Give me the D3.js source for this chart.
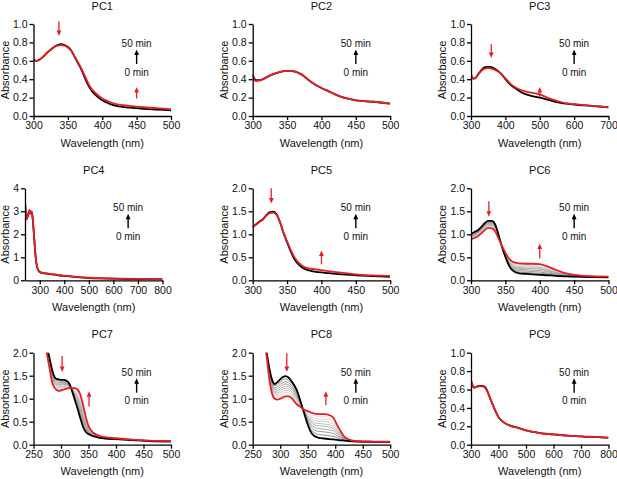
<!DOCTYPE html>
<html>
<head>
<meta charset="utf-8">
<script src="https://cdn.jsdelivr.net/npm/d3@7"></script>
<style>
  body { margin: 0; background: #fff; }
  svg { font-family: "Liberation Sans", Arial, sans-serif; }
</style>
</head>
<body>
<div id="chart"></div>
<script>
// ---- data (wavelength in nm, absorbance) ----
const titles = ['PC1', 'PC2', 'PC3', 'PC4', 'PC5', 'PC6', 'PC7', 'PC8', 'PC9'];

const pc1Wl  = [300, 305, 310, 315, 320, 325, 330, 335, 340, 345, 350, 355, 360, 365, 370, 375, 380, 385, 390, 400, 410, 420, 440, 460, 480, 500];
const pc1T0  = [0.61, 0.60, 0.62, 0.65, 0.69, 0.72, 0.75, 0.77, 0.78, 0.77, 0.75, 0.71, 0.64, 0.57, 0.50, 0.41, 0.33, 0.27, 0.23, 0.17, 0.135, 0.11, 0.09, 0.078, 0.07, 0.062];
const pc1T50 = [0.61, 0.60, 0.62, 0.65, 0.69, 0.72, 0.75, 0.765, 0.77, 0.765, 0.745, 0.71, 0.645, 0.58, 0.51, 0.43, 0.35, 0.29, 0.25, 0.19, 0.155, 0.13, 0.11, 0.095, 0.085, 0.072];

const pc2Wl  = [300, 302, 305, 310, 315, 320, 330, 340, 350, 355, 360, 365, 370, 375, 380, 385, 390, 400, 410, 420, 430, 440, 450, 475, 500];
const pc2T0  = [0.45, 0.41, 0.39, 0.39, 0.40, 0.42, 0.455, 0.48, 0.49, 0.49, 0.485, 0.475, 0.455, 0.43, 0.40, 0.37, 0.345, 0.305, 0.27, 0.235, 0.205, 0.185, 0.17, 0.155, 0.135];
const pc2T50 = [0.44, 0.40, 0.38, 0.385, 0.40, 0.42, 0.455, 0.48, 0.49, 0.49, 0.485, 0.475, 0.455, 0.43, 0.40, 0.37, 0.345, 0.305, 0.27, 0.235, 0.205, 0.185, 0.17, 0.155, 0.135];

const pc3Wl  = [300, 303, 307, 312, 320, 330, 340, 350, 360, 370, 380, 390, 400, 415, 430, 450, 475, 500, 525, 550, 575, 600, 650, 700];
const pc3T0  = [0.44, 0.42, 0.41, 0.41, 0.45, 0.50, 0.53, 0.535, 0.53, 0.51, 0.485, 0.45, 0.40, 0.34, 0.30, 0.25, 0.22, 0.20, 0.175, 0.15, 0.135, 0.125, 0.11, 0.095];
const pc3T50 = [0.47, 0.42, 0.405, 0.41, 0.445, 0.49, 0.515, 0.52, 0.515, 0.50, 0.48, 0.45, 0.41, 0.35, 0.31, 0.275, 0.255, 0.235, 0.195, 0.165, 0.14, 0.13, 0.11, 0.095];

const pc4Wl  = [240, 243, 247, 251, 255, 258, 261, 264, 268, 272, 276, 280, 285, 290, 295, 300, 310, 320, 330, 350, 375, 400, 450, 500, 550, 600, 700, 800];
const pc4T0  = [3.45, 2.95, 2.68, 2.78, 2.92, 3.02, 2.90, 2.98, 2.95, 2.60, 2.05, 1.45, 0.85, 0.55, 0.42, 0.36, 0.32, 0.30, 0.29, 0.26, 0.22, 0.19, 0.14, 0.10, 0.08, 0.07, 0.055, 0.045];
const pc4T50 = [3.40, 2.90, 2.65, 2.80, 2.95, 3.06, 2.92, 3.00, 2.97, 2.62, 2.07, 1.47, 0.87, 0.56, 0.43, 0.37, 0.33, 0.31, 0.30, 0.27, 0.23, 0.20, 0.15, 0.11, 0.085, 0.075, 0.06, 0.05];

const pc5Wl  = [300, 305, 310, 315, 320, 325, 330, 335, 340, 345, 350, 355, 360, 365, 370, 375, 380, 390, 400, 410, 425, 450, 475, 500];
const pc5T0  = [1.16, 1.22, 1.28, 1.33, 1.42, 1.48, 1.49, 1.43, 1.25, 1.02, 0.83, 0.64, 0.48, 0.37, 0.30, 0.25, 0.22, 0.19, 0.17, 0.155, 0.135, 0.11, 0.09, 0.075];
const pc5T50 = [1.15, 1.21, 1.27, 1.32, 1.41, 1.46, 1.47, 1.42, 1.25, 1.03, 0.85, 0.67, 0.52, 0.41, 0.34, 0.29, 0.265, 0.24, 0.22, 0.20, 0.17, 0.13, 0.105, 0.095];

const pc6Wl  = [300, 305, 310, 315, 320, 325, 330, 335, 340, 345, 350, 355, 360, 370, 380, 390, 400, 410, 420, 430, 440, 450, 475, 500];
const pc6T0  = [1.01, 1.05, 1.09, 1.16, 1.24, 1.29, 1.29, 1.22, 0.99, 0.73, 0.51, 0.33, 0.22, 0.15, 0.14, 0.13, 0.12, 0.11, 0.10, 0.09, 0.085, 0.08, 0.07, 0.065];
const pc6T50 = [0.89, 0.92, 0.96, 1.02, 1.09, 1.14, 1.13, 1.07, 0.91, 0.75, 0.60, 0.48, 0.41, 0.37, 0.36, 0.36, 0.35, 0.31, 0.25, 0.19, 0.145, 0.12, 0.09, 0.08];
const pc6Mid = [
  [0.99, 1.03, 1.07, 1.14, 1.22, 1.27, 1.27, 1.20, 0.98, 0.73, 0.52, 0.35, 0.25, 0.18, 0.17, 0.16, 0.15, 0.14, 0.12, 0.10, 0.09, 0.086, 0.073, 0.067],
  [0.98, 1.01, 1.05, 1.12, 1.20, 1.25, 1.25, 1.18, 0.97, 0.74, 0.53, 0.37, 0.27, 0.21, 0.20, 0.19, 0.18, 0.16, 0.14, 0.12, 0.10, 0.09, 0.075, 0.069],
  [0.96, 1.00, 1.04, 1.11, 1.18, 1.23, 1.23, 1.16, 0.96, 0.74, 0.55, 0.39, 0.29, 0.24, 0.23, 0.22, 0.21, 0.19, 0.16, 0.13, 0.11, 0.095, 0.078, 0.071],
  [0.95, 0.99, 1.03, 1.09, 1.17, 1.22, 1.21, 1.15, 0.95, 0.74, 0.56, 0.41, 0.32, 0.26, 0.25, 0.25, 0.24, 0.21, 0.18, 0.14, 0.115, 0.10, 0.08, 0.072],
  [0.94, 0.97, 1.01, 1.08, 1.15, 1.20, 1.19, 1.13, 0.94, 0.74, 0.56, 0.42, 0.33, 0.28, 0.27, 0.27, 0.26, 0.23, 0.19, 0.15, 0.12, 0.104, 0.082, 0.074],
  [0.93, 0.96, 1.00, 1.06, 1.14, 1.19, 1.18, 1.12, 0.93, 0.74, 0.57, 0.44, 0.35, 0.30, 0.29, 0.29, 0.28, 0.25, 0.21, 0.16, 0.125, 0.108, 0.084, 0.075],
  [0.91, 0.95, 0.99, 1.05, 1.12, 1.17, 1.16, 1.10, 0.93, 0.75, 0.58, 0.45, 0.37, 0.33, 0.32, 0.31, 0.30, 0.27, 0.22, 0.17, 0.13, 0.112, 0.086, 0.077],
  [0.90, 0.93, 0.97, 1.03, 1.11, 1.16, 1.15, 1.09, 0.92, 0.75, 0.59, 0.47, 0.39, 0.35, 0.34, 0.34, 0.33, 0.29, 0.24, 0.18, 0.14, 0.116, 0.088, 0.078]
];

const pc7Wl  = [268, 272, 276, 280, 284, 288, 292, 296, 300, 305, 310, 315, 320, 325, 330, 335, 340, 345, 350, 355, 360, 370, 380, 400, 430, 460, 500];
const pc7T0  = [2.45, 2.25, 2.05, 1.83, 1.62, 1.48, 1.43, 1.42, 1.41, 1.41, 1.39, 1.33, 1.17, 0.98, 0.79, 0.58, 0.39, 0.28, 0.23, 0.20, 0.18, 0.15, 0.135, 0.12, 0.10, 0.08, 0.07];
const pc7T50 = [2.35, 2.12, 1.87, 1.60, 1.35, 1.24, 1.19, 1.17, 1.18, 1.20, 1.22, 1.23, 1.23, 1.23, 1.20, 1.09, 0.87, 0.61, 0.41, 0.31, 0.25, 0.195, 0.165, 0.14, 0.11, 0.09, 0.08];
const pc7Mid = [
  [2.44, 2.23, 2.02, 1.80, 1.58, 1.45, 1.40, 1.39, 1.38, 1.38, 1.37, 1.32, 1.18, 1.02, 0.85, 0.65, 0.46, 0.33, 0.26, 0.22, 0.19, 0.156, 0.14, 0.123, 0.101, 0.081, 0.071],
  [2.42, 2.21, 2.00, 1.77, 1.55, 1.42, 1.37, 1.35, 1.35, 1.35, 1.34, 1.30, 1.19, 1.05, 0.90, 0.72, 0.52, 0.37, 0.28, 0.23, 0.20, 0.162, 0.143, 0.125, 0.103, 0.083, 0.073],
  [2.41, 2.20, 1.98, 1.74, 1.51, 1.39, 1.34, 1.32, 1.32, 1.33, 1.32, 1.29, 1.19, 1.08, 0.95, 0.78, 0.58, 0.41, 0.30, 0.24, 0.21, 0.168, 0.147, 0.128, 0.104, 0.084, 0.074],
  [2.40, 2.19, 1.96, 1.72, 1.49, 1.36, 1.31, 1.30, 1.30, 1.31, 1.31, 1.28, 1.20, 1.11, 1.00, 0.84, 0.63, 0.45, 0.32, 0.26, 0.215, 0.172, 0.15, 0.13, 0.105, 0.085, 0.075],
  [2.39, 2.17, 1.94, 1.69, 1.46, 1.34, 1.29, 1.27, 1.27, 1.28, 1.29, 1.27, 1.21, 1.13, 1.04, 0.89, 0.68, 0.48, 0.34, 0.27, 0.22, 0.177, 0.153, 0.132, 0.106, 0.086, 0.076],
  [2.38, 2.16, 1.92, 1.67, 1.43, 1.31, 1.26, 1.25, 1.25, 1.26, 1.27, 1.26, 1.21, 1.16, 1.08, 0.94, 0.73, 0.51, 0.36, 0.28, 0.23, 0.18, 0.156, 0.134, 0.107, 0.087, 0.077],
  [2.37, 2.15, 1.91, 1.65, 1.40, 1.29, 1.24, 1.22, 1.23, 1.24, 1.25, 1.25, 1.22, 1.18, 1.12, 0.99, 0.77, 0.54, 0.37, 0.29, 0.235, 0.186, 0.159, 0.136, 0.108, 0.088, 0.078],
  [2.36, 2.13, 1.89, 1.62, 1.38, 1.26, 1.21, 1.20, 1.20, 1.22, 1.24, 1.24, 1.22, 1.21, 1.16, 1.04, 0.82, 0.58, 0.39, 0.30, 0.24, 0.19, 0.162, 0.138, 0.109, 0.089, 0.079]
];

const pc8Wl  = [270, 275, 280, 285, 290, 295, 300, 305, 310, 315, 320, 330, 337, 344, 350, 356, 362, 370, 380, 390, 397, 404, 410, 416, 425, 440, 470, 500];
const pc8T0  = [2.35, 2.03, 1.68, 1.42, 1.32, 1.36, 1.42, 1.47, 1.49, 1.46, 1.39, 1.19, 0.94, 0.67, 0.44, 0.27, 0.19, 0.15, 0.135, 0.12, 0.115, 0.105, 0.095, 0.09, 0.08, 0.07, 0.063, 0.06];
const pc8T50 = [2.25, 1.95, 1.45, 1.12, 1.00, 0.98, 1.00, 1.03, 1.05, 1.05, 1.02, 0.88, 0.82, 0.76, 0.73, 0.70, 0.675, 0.665, 0.665, 0.64, 0.58, 0.42, 0.29, 0.18, 0.11, 0.075, 0.065, 0.065];
const pc8Mid = [
  [2.34, 2.02, 1.65, 1.38, 1.28, 1.31, 1.36, 1.41, 1.43, 1.40, 1.34, 1.15, 0.92, 0.68, 0.48, 0.33, 0.26, 0.22, 0.21, 0.19, 0.18, 0.15, 0.12, 0.10, 0.085, 0.07, 0.064, 0.062],
  [2.32, 2.01, 1.62, 1.34, 1.23, 1.26, 1.31, 1.35, 1.37, 1.35, 1.29, 1.11, 0.91, 0.69, 0.52, 0.39, 0.32, 0.29, 0.28, 0.26, 0.24, 0.19, 0.15, 0.11, 0.09, 0.07, 0.064, 0.062],
  [2.31, 2.00, 1.59, 1.30, 1.20, 1.21, 1.26, 1.30, 1.32, 1.30, 1.25, 1.07, 0.89, 0.71, 0.55, 0.44, 0.38, 0.35, 0.34, 0.32, 0.30, 0.23, 0.17, 0.125, 0.09, 0.07, 0.064, 0.062],
  [2.30, 1.99, 1.57, 1.27, 1.16, 1.17, 1.21, 1.25, 1.27, 1.26, 1.21, 1.04, 0.88, 0.72, 0.59, 0.49, 0.43, 0.41, 0.40, 0.38, 0.35, 0.26, 0.19, 0.135, 0.095, 0.07, 0.064, 0.062],
  [2.29, 1.98, 1.54, 1.24, 1.13, 1.13, 1.17, 1.21, 1.23, 1.21, 1.17, 1.00, 0.87, 0.72, 0.61, 0.53, 0.48, 0.46, 0.45, 0.43, 0.39, 0.30, 0.21, 0.145, 0.10, 0.07, 0.064, 0.062],
  [2.28, 1.97, 1.52, 1.21, 1.10, 1.09, 1.13, 1.16, 1.18, 1.17, 1.13, 0.97, 0.86, 0.73, 0.64, 0.57, 0.53, 0.51, 0.51, 0.48, 0.44, 0.33, 0.23, 0.155, 0.10, 0.07, 0.064, 0.062],
  [2.27, 1.97, 1.50, 1.18, 1.06, 1.06, 1.08, 1.12, 1.14, 1.13, 1.09, 0.94, 0.84, 0.74, 0.67, 0.61, 0.58, 0.56, 0.56, 0.54, 0.49, 0.36, 0.25, 0.16, 0.105, 0.07, 0.065, 0.063],
  [2.26, 1.96, 1.47, 1.15, 1.03, 1.02, 1.04, 1.07, 1.09, 1.09, 1.06, 0.91, 0.83, 0.75, 0.70, 0.66, 0.63, 0.61, 0.61, 0.59, 0.53, 0.39, 0.27, 0.17, 0.11, 0.072, 0.065, 0.064]
];

const pc9Wl  = [300, 305, 310, 320, 330, 340, 350, 360, 370, 380, 390, 400, 420, 440, 475, 500, 550, 600, 650, 700, 725, 750, 775, 800];
const pc9T0  = [0.69, 0.65, 0.62, 0.63, 0.64, 0.64, 0.63, 0.58, 0.50, 0.43, 0.36, 0.30, 0.24, 0.21, 0.18, 0.155, 0.127, 0.112, 0.098, 0.09, 0.086, 0.085, 0.08, 0.076];
const pc9T50 = [0.70, 0.655, 0.62, 0.625, 0.635, 0.635, 0.625, 0.575, 0.50, 0.43, 0.36, 0.30, 0.24, 0.21, 0.18, 0.155, 0.127, 0.112, 0.098, 0.09, 0.087, 0.086, 0.08, 0.076];

// axis domains and ticks
const xDomains = [[300, 500], [300, 500], [300, 700], [240, 800], [300, 500], [300, 500], [250, 500], [250, 500], [300, 800]];
const xTicks = [
  [300, 350, 400, 450, 500], [300, 350, 400, 450, 500], [300, 400, 500, 600, 700],
  [300, 400, 500, 600, 700, 800], [300, 350, 400, 450, 500], [300, 350, 400, 450, 500],
  [250, 300, 350, 400, 450, 500], [250, 300, 350, 400, 450, 500], [300, 400, 500, 600, 700, 800]
];
const yMaxes = [1, 1, 1, 4, 2, 2, 2, 2, 1];
const yTicks = [
  [0, 0.2, 0.4, 0.6, 0.8, 1.0], [0, 0.2, 0.4, 0.6, 0.8, 1.0], [0, 0.2, 0.4, 0.6, 0.8, 1.0],
  [0, 1, 2, 3, 4], [0, 0.5, 1.0, 1.5, 2.0], [0, 0.5, 1.0, 1.5, 2.0],
  [0, 0.5, 1.0, 1.5, 2.0], [0, 0.5, 1.0, 1.5, 2.0], [0, 0.2, 0.4, 0.6, 0.8, 1.0]
];

// red arrows: [wavelength, tail absorbance, tip absorbance]
const redArrows = [
  [[337, 1.03, 0.87], [450, 0.19, 0.315]],
  [],
  [[359, 0.78, 0.63], [500, 0.21, 0.315]],
  [],
  [[327, 2.0, 1.67], [400, 0.35, 0.65]],
  [[326, 1.72, 1.38], [400, 0.48, 0.80]],
  [[302, 1.93, 1.58], [351, 0.83, 1.16]],
  [[312, 1.99, 1.58], [383, 0.86, 1.16]],
  []
];

// ---- build panel table ----
const wls = [pc1Wl, pc2Wl, pc3Wl, pc4Wl, pc5Wl, pc6Wl, pc7Wl, pc8Wl, pc9Wl];
const firsts = [pc1T0, pc2T0, pc3T0, pc4T0, pc5T0, pc6T0, pc7T0, pc8T0, pc9T0];
const lasts = [pc1T50, pc2T50, pc3T50, pc4T50, pc5T50, pc6T50, pc7T50, pc8T50, pc9T50];
const mids = [[], [], [], [], [], pc6Mid, pc7Mid, pc8Mid, []];

const panels = titles.map((t, i) => ({
  title: t, wl: wls[i], t0: firsts[i], t50: lasts[i], mid: mids[i],
  xDomain: xDomains[i], xTicks: xTicks[i], yMax: yMaxes[i], yTicks: yTicks[i],
  arrows: redArrows[i]
}));

// ---- layout ----
const W = 617, H = 479;
const plotW = 137.5, plotH = 92;
const colLeft = [33.5, 252.7, 471];
const rowTop = [24, 188.3, 352.7];
const RED = '#e61e25';

const svg = d3.select('#chart').append('svg')
  .attr('width', W).attr('height', H);

panels.forEach((p, i) => {
  const row = Math.floor(i / 3), col = i % 3;
  const intTicks = p.yTicks.every(v => Number.isInteger(v));
  const left = colLeft[col] - (intTicks ? 8.5 : 0);
  const g = svg.append('g').attr('transform', `translate(${left},${rowTop[row]})`);

  const x = d3.scaleLinear().domain(p.xDomain).range([0, plotW]);
  const y = d3.scaleLinear().domain([0, p.yMax]).range([plotH, 0]);

  const clipId = 'clip' + i;
  g.append('clipPath').attr('id', clipId)
    .append('rect').attr('x', 0).attr('y', 0).attr('width', plotW).attr('height', plotH);

  const line = d3.line()
    .x((d, j) => x(p.wl[j]))
    .y(d => y(d))
    .curve(d3.curveMonotoneX);

  const curves = g.append('g').attr('clip-path', `url(#${clipId})`);

  const grey = d3.interpolateRgb('#5c5c5c', '#d4d4d4');
  curves.selectAll('path.mid')
    .data(p.mid)
    .enter()
    .append('path')
    .attr('class', 'mid')
    .attr('d', line)
    .attr('fill', 'none')
    .attr('stroke', (d, k) => grey(p.mid.length > 1 ? k / (p.mid.length - 1) : 0.5))
    .attr('stroke-width', 0.7);

  curves.append('path')
    .attr('d', line(p.t0))
    .attr('fill', 'none')
    .attr('stroke', '#000')
    .attr('stroke-width', 1.8);

  curves.append('path')
    .attr('d', line(p.t50))
    .attr('fill', 'none')
    .attr('stroke', RED)
    .attr('stroke-width', 1.8);

  // axes
  const xAxis = g.append('g')
    .attr('transform', `translate(0,${plotH})`)
    .call(d3.axisBottom(x).tickValues(p.xTicks).tickFormat(d3.format('d')).tickSize(4).tickSizeOuter(0).tickPadding(2));
  const yAxis = g.append('g')
    .call(d3.axisLeft(y).tickValues(p.yTicks)
      .tickFormat(intTicks ? d3.format('d') : d3.format('.1f'))
      .tickSize(4).tickSizeOuter(0).tickPadding(2));

  [xAxis, yAxis].forEach(a => {
    a.select('.domain').attr('stroke', '#000').attr('stroke-width', 1.3);
    a.selectAll('.tick line').attr('stroke', '#000').attr('stroke-width', 1.3);
    a.selectAll('.tick text')
      .attr('fill', '#111')
      .style('font-size', '10.5px')
      .style('font-family', '"Liberation Sans", Arial, sans-serif');
  });

  // titles
  g.append('text')
    .attr('x', plotW / 2)
    .attr('y', -14.5)
    .attr('text-anchor', 'middle')
    .style('font-size', '11px')
    .attr('fill', '#111')
    .text(p.title);

  g.append('text')
    .attr('x', plotW / 2)
    .attr('y', plotH + 30.5)
    .attr('text-anchor', 'middle')
    .style('font-size', '11px')
    .attr('fill', '#111')
    .text('Wavelength (nm)');

  g.append('text')
    .attr('transform', `translate(${intTicks ? -20.3 : -28.8},${plotH / 2}) rotate(-90)`)
    .attr('dy', '0.35em')
    .attr('text-anchor', 'middle')
    .style('font-size', '11px')
    .attr('fill', '#111')
    .text('Absorbance');

  // time annotation
  const ax = plotW * 0.75;
  g.append('text')
    .attr('x', ax).attr('y', 23)
    .attr('text-anchor', 'middle')
    .style('font-size', '10px')
    .attr('fill', '#111')
    .text('50 min');
  g.append('line')
    .attr('x1', ax).attr('x2', ax)
    .attr('y1', 40).attr('y2', 30)
    .attr('stroke', '#000').attr('stroke-width', 1.4);
  g.append('path')
    .attr('d', `M${ax - 2.4},${31} L${ax},${25.5} L${ax + 2.4},${31} Z`)
    .attr('fill', '#000');
  g.append('text')
    .attr('x', ax).attr('y', 51.7)
    .attr('text-anchor', 'middle')
    .style('font-size', '10px')
    .attr('fill', '#111')
    .text('0 min');

  // red arrows
  p.arrows.forEach(a => {
    const xa = x(a[0]);
    const yTail = y(a[1]), yTip = y(a[2]);
    const dir = yTip > yTail ? 1 : -1;
    g.append('line')
      .attr('x1', xa).attr('x2', xa)
      .attr('y1', yTail).attr('y2', yTip - dir * 4.5)
      .attr('stroke', RED).attr('stroke-width', 1.3);
    g.append('path')
      .attr('d', `M${xa - 2.4},${yTip - dir * 5.5} L${xa},${yTip} L${xa + 2.4},${yTip - dir * 5.5} Z`)
      .attr('fill', RED);
  });
});
</script>
</body>
</html>
